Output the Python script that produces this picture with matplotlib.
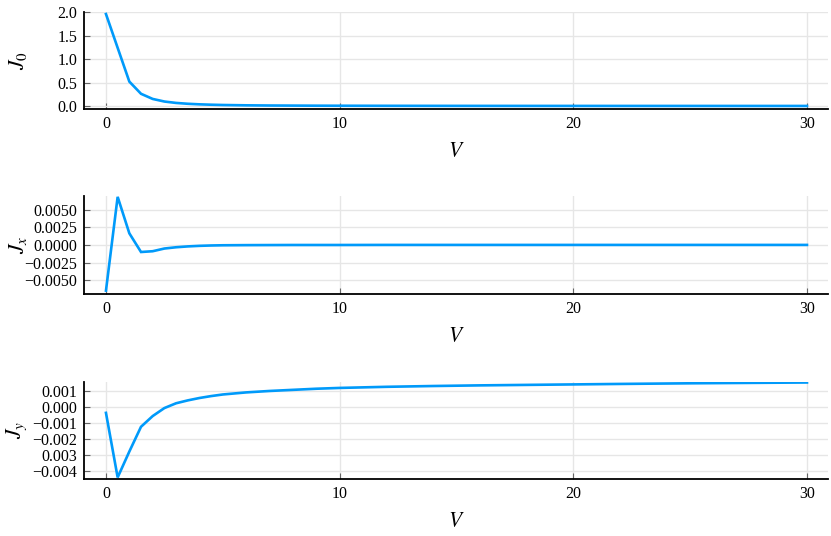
import matplotlib
matplotlib.use("Agg")
import matplotlib.pyplot as plt

V = [0, 0.5, 1.0, 1.5, 2.0, 2.5, 3.0, 3.5, 4.0, 4.5, 5.0, 6, 7, 8, 9, 10,
     12, 14, 16, 18, 20, 22, 25, 28, 30]
J0 = [1.96, 1.24, 0.52, 0.26, 0.15, 0.095, 0.065, 0.047, 0.035, 0.027, 0.021,
      0.014, 0.010, 0.008, 0.006, 0.005, 0.0035, 0.0026, 0.002, 0.0016, 0.0013,
      0.0011, 0.0009, 0.0007, 0.0006]
Jx = [-0.00645, 0.0068, 0.00165, -0.00099, -0.00088, -0.0005, -0.00032,
      -0.0002, -0.00012, -0.00007, -0.00004, -0.00002, -0.00001, 0.0, 0.0,
      0.0, 0.00001, 0.00001, 0.00001, 0.00001, 0.00001, 0.00001, 0.00001,
      0.00001, 0.00001]
Jy = [-0.00038, -0.00442, -0.0028, -0.00125, -0.00058, -0.00008, 0.00022,
      0.0004, 0.00055, 0.00067, 0.00077, 0.0009, 0.00099, 0.00106, 0.00113,
      0.00118, 0.00125, 0.0013, 0.00134, 0.00137, 0.0014, 0.00143, 0.00147,
      0.0015, 0.00152]

xticks = [0, 10, 20, 30]
j0_ticks = [0.0, 0.5, 1.0, 1.5, 2.0]
j0_labels = ["0.0", "0.5", "1.0", "1.5", "2.0"]
jx_ticks = [-0.005, -0.0025, 0.0, 0.0025, 0.005]
jx_labels = ["\u22120.0050", "\u22120.0025", "0.0000", "0.0025", "0.0050"]
jy_ticks = [-0.004, -0.003, -0.002, -0.001, 0.0, 0.001]
jy_labels = ["\u22120.004", "0.003", "\u22120.002", "\u22120.001", "0.000", "0.001"]

plt.rcParams['font.family'] = ['Liberation Serif', 'DejaVu Serif']
plt.rcParams['mathtext.fontset'] = 'stix'

W, H = 831, 536
fig = plt.figure(figsize=(W / 100, H / 100), dpi=100)

color = '#009AFA'
left, right = 84, 828
panels = [
    (11.7, 108.7, J0, j0_ticks, j0_labels, (-0.058, 2.01), r'$J_0$'),
    (196, 293.7, Jx, jx_ticks, jx_labels, (-0.00688, 0.00692), r'$J_x$'),
    (381.7, 478.7, Jy, jy_ticks, jy_labels, (-0.0045, 0.00157), r'$J_y$'),
]

for top, bot, data, yt, yl, ylim, lab in panels:
    ax = fig.add_axes([left / W, 1 - bot / H, (right - left) / W, (bot - top) / H])
    ax.plot(V, data, color=color, lw=1.9, solid_joinstyle='miter', zorder=3)
    ax.set_xlim(-0.94, 30.9)
    ax.set_ylim(*ylim)
    ax.set_xticks(xticks)
    ax.set_xticklabels([str(t) for t in xticks])
    ax.set_yticks(yt)
    ax.set_yticklabels(yl)
    ax.grid(True, color='#e6e6e6', lw=1.0, zorder=0)
    for s in ['top', 'right']:
        ax.spines[s].set_visible(False)
    for s in ['left', 'bottom']:
        ax.spines[s].set_linewidth(1.3)
        ax.spines[s].set_color('black')
    ax.tick_params(direction='in', length=4, width=0.8, color='#666666',
                   labelsize=11.5, pad=5)
    ax.set_xlabel(r'$V$', fontsize=15.5, labelpad=8)
    ax.set_ylabel(lab, fontsize=15.5)
    ax.yaxis.set_label_coords((29 - left) / (right - left), 0.5)

fig.savefig('out.png', dpi=100)
